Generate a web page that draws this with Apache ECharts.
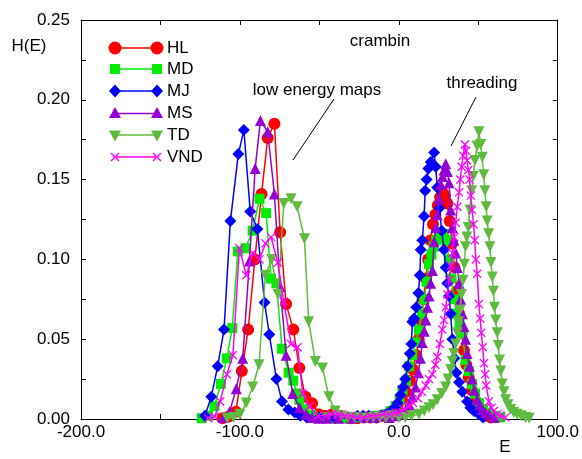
<!DOCTYPE html>
<html>
<head>
<meta charset="utf-8">
<script src="https://cdn.jsdelivr.net/npm/echarts@6/dist/echarts.min.js"></script>
<style>
  html, body { margin: 0; padding: 0; background: #fff; }
  #chart { width: 582px; height: 459px; }
</style>
</head>
<body>
<div id="chart"></div>
<script>
// Energy histograms H(E) for crambin: low energy maps (left) and threading (right)

const hlE = [-111, -107, -102.5, -98.8, -94.8, -90.6, -86.4, -82.5, -78.3, -74.7, -70.9, -66.4, -62.6, -58.8, -54.6, -50.5, -46.5,
  -42, -38, -34, -30, -26, -22, -18,
  -14, -10, -7, -4, -1, 2, 4.5, 7, 9, 11, 12.5, 14, 15.5, 17, 18.5, 20, 21.5, 23, 24.5, 26, 27.5, 29, 30.5, 32, 33.5, 35, 36.5, 38, 39.5, 41, 42.5, 44, 46, 48, 50, 52.5, 55, 58];
const hlH = [0.0005, 0.0015, 0.0046, 0.030, 0.056, 0.100, 0.141, 0.176, 0.185, 0.117, 0.072, 0.056, 0.032, 0.014, 0.0098, 0.003, 0.002,
  0.003, 0.002, 0.001, 0.0005, 0.0005, 0.001, 0.001,
  0.001, 0.002, 0.003, 0.005, 0.008, 0.012, 0.017, 0.024, 0.031, 0.040, 0.050, 0.062, 0.075, 0.088, 0.100, 0.112, 0.122, 0.128, 0.134, 0.139, 0.142, 0.140, 0.135, 0.124, 0.110, 0.095, 0.080, 0.066, 0.054, 0.043, 0.034, 0.026, 0.018, 0.012, 0.008, 0.005, 0.002, 0.001];

const mdE = [-124, -120, -116, -112, -108.2, -104.8, -101.3, -96.5, -92, -87.7, -83.5, -80.4, -77, -73.5, -69.3, -66.4, -64.3, -62.6, -59.4, -55, -51,
  -46, -40, -34, -28, -22, -16,
  -12, -8, -5, -2, 0.5, 2.3, 4.5, 6.5, 8.5, 10.5, 12.7, 14.5, 16, 17.5, 19, 20.5, 22, 23.5, 25.3, 27, 28.5, 30, 31.5, 33, 34.7, 36.5, 38.2, 40, 42, 44, 46, 48, 50.5, 53, 56, 60.4, 64];
const mdH = [0.0005, 0.002, 0.008, 0.022, 0.038, 0.057, 0.105, 0.107, 0.118, 0.138, 0.129, 0.088, 0.085, 0.044, 0.029, 0.024, 0.016, 0.012, 0.006, 0.0025, 0.001,
  0.001, 0.0005, 0.0005, 0.001, 0.001, 0.002,
  0.002, 0.003, 0.005, 0.008, 0.012, 0.018, 0.024, 0.033, 0.040, 0.048, 0.056, 0.066, 0.075, 0.086, 0.097, 0.103, 0.108, 0.112, 0.117, 0.113, 0.116, 0.112, 0.100, 0.088, 0.075, 0.066, 0.060, 0.054, 0.037, 0.030, 0.022, 0.016, 0.010, 0.006, 0.004, 0.002, 0.001];

const mjE = [-122, -118, -114, -110, -106, -101, -97.5, -93.5, -89, -84.5, -81.5, -77, -73.5, -69.5, -65.5, -62, -58,
  -50, -40, -30, -26, -22.5, -19,
  -14, -11, -8, -5, -2.5, -0.8, 1, 2.7, 4, 5.4, 6.9, 7.9, 8.5, 9.6, 11, 12.3, 13.2, 13.8, 14.8, 15.9, 16.6, 17.5, 18.6, 20.1, 22.2, 23.2, 24.2, 25.5, 27, 28.4, 29.5, 30.5, 31.6, 32.6, 33.7, 35, 36.2, 37.9, 40, 43, 45, 47.3, 50.4, 53];
const mjH = [0.002, 0.014, 0.033, 0.056, 0.124, 0.166, 0.181, 0.130, 0.119, 0.073, 0.053, 0.025, 0.011, 0.006, 0.004, 0.002, 0.001,
  0.001, 0.0005, 0.001, 0.002, 0.002, 0.002,
  0.001, 0.002, 0.003, 0.005, 0.007, 0.010, 0.015, 0.020, 0.025, 0.033, 0.041, 0.047, 0.061, 0.063, 0.070, 0.079, 0.090, 0.106, 0.112, 0.127, 0.143, 0.150, 0.157, 0.161, 0.167, 0.158, 0.145, 0.132, 0.118, 0.106, 0.095, 0.085, 0.077, 0.066, 0.050, 0.038, 0.029, 0.023, 0.017, 0.011, 0.007, 0.005, 0.003, 0.001];

const msE = [-110.5, -106.5, -102.3, -98.2, -94, -90.4, -87.1, -82.5, -78.3, -74.7, -70.9, -66.8, -62.5, -58.5, -54.5, -50.5,
  -45, -38, -30, -22, -16, -10,
  -6, -2, 0.2, 2.5, 4.4, 6.5, 8.5, 10.5, 12.3, 13.6, 14.8, 16, 17, 18, 19, 20, 21.1, 22.2, 23.2, 24.2, 25.3, 26.4, 27.5, 28.5, 29.5, 30.6, 31.6, 32.6, 33.7, 34.7, 35.8, 36.8, 37.9, 38.9, 40, 41, 42, 43, 44.5, 46, 47.5, 49.4, 51, 52.5, 54.5, 56.7, 60];
const msH = [0.001, 0.0046, 0.019, 0.038, 0.099, 0.157, 0.187, 0.180, 0.141, 0.083, 0.040, 0.016, 0.007, 0.003, 0.001, 0.0005,
  0.0005, 0.0005, 0.0005, 0.001, 0.001, 0.002,
  0.001, 0.002, 0.003, 0.004, 0.006, 0.009, 0.014, 0.020, 0.029, 0.038, 0.048, 0.055, 0.062, 0.070, 0.077, 0.085, 0.093, 0.111, 0.120, 0.128, 0.138, 0.147, 0.152, 0.156, 0.160, 0.155, 0.148, 0.131, 0.120, 0.112, 0.104, 0.095, 0.085, 0.075, 0.066, 0.058, 0.050, 0.041, 0.033, 0.025, 0.018, 0.012, 0.009, 0.006, 0.004, 0.003, 0.001];

const tdE = [-108, -104, -100, -96, -92, -88, -84, -80, -76, -72.4, -67.8, -64, -59.4, -56.7, -52.5, -48, -44, -40, -36, -32,
  -28, -24, -20, -16, -12, -8, -4,
  0, 4, 8, 12.7, 16, 19, 21.5, 24.2, 27, 29.5, 31, 32.6, 33.7, 34.7, 35.8, 36.8, 37.6, 38.5, 39.4, 40.4, 41.2, 42, 42.8, 43.7, 44.7, 45.8, 46.8, 47.9, 49.2, 50.4, 51.5, 52.5, 53.4, 54.2, 55, 55.6, 56.5, 57.3, 58, 58.8, 59.5, 60.2, 61, 61.9, 62.6, 63.4, 64.2, 65.1, 66.2, 67.2, 68.7, 70.3, 72.3, 74.5, 77, 79.7, 82];
const tdH = [0.0005, 0.001, 0.003, 0.010, 0.020, 0.034, 0.090, 0.100, 0.078, 0.135, 0.138, 0.133, 0.113, 0.061, 0.036, 0.032, 0.014, 0.005, 0.002, 0.001,
  0.001, 0.0005, 0.0005, 0.001, 0.001, 0.001, 0.002,
  0.001, 0.001, 0.002, 0.003, 0.005, 0.007, 0.009, 0.012, 0.016, 0.020, 0.025, 0.031, 0.036, 0.041, 0.047, 0.054, 0.061, 0.068, 0.078, 0.087, 0.097, 0.108, 0.114, 0.120, 0.131, 0.143, 0.152, 0.162, 0.171, 0.180, 0.172, 0.164, 0.153, 0.143, 0.133, 0.124, 0.116, 0.108, 0.098, 0.089, 0.080, 0.070, 0.062, 0.054, 0.046, 0.037, 0.030, 0.022, 0.017, 0.012, 0.009, 0.006, 0.004, 0.003, 0.002, 0.001, 0.0005];

const vndE = [-120, -115.9, -112.4, -108.2, -104.4, -100.3, -96, -91.9, -87.7, -83.9, -80.4, -76.2, -72.4, -67.8, -63.7, -60.5, -56.3, -51, -46,
  -42, -38, -34, -30, -26, -22, -18, -14, -10, -6, -2,
  0, 3, 6, 9, 12, 14.5, 17, 19, 21.1, 23, 24.2, 25.8, 27.4, 28.5, 29.5, 30.6, 31.6, 32.7, 33.7, 34.8, 35.8, 36.8, 37.9, 38.7, 39.5, 40.5, 41.6, 42.3, 43, 43.8, 44.5, 45.3, 46.1, 47, 47.8, 48.5, 49.3, 50.4, 51.2, 51.9, 52.8, 53.6, 54.3, 55, 56.7, 58.3, 59.8, 62, 64, 67];
const vndH = [0.0005, 0.0015, 0.011, 0.028, 0.040, 0.107, 0.090, 0.104, 0.100, 0.110, 0.114, 0.098, 0.0735, 0.047, 0.045, 0.016, 0.008, 0.002, 0.002,
  0.003, 0.003, 0.002, 0.002, 0.001, 0.001, 0.002, 0.002, 0.003, 0.003, 0.004,
  0.004, 0.006, 0.008, 0.010, 0.013, 0.017, 0.021, 0.025, 0.028, 0.034, 0.039, 0.047, 0.056, 0.062, 0.070, 0.078, 0.087, 0.096, 0.104, 0.114, 0.123, 0.133, 0.142, 0.150, 0.158, 0.165, 0.172, 0.168, 0.162, 0.156, 0.150, 0.140, 0.131, 0.122, 0.112, 0.100, 0.091, 0.072, 0.063, 0.054, 0.045, 0.035, 0.028, 0.021, 0.011, 0.007, 0.005, 0.003, 0.002, 0.001];

const seriesNames = ['HL', 'MD', 'MJ', 'MS', 'TD', 'VND'];
const xLabelValues = [-200, -100, 0, 100];
const yLabelValues = [0, 0.05, 0.10, 0.15, 0.20, 0.25];

const FONT = '"Liberation Sans", Arial, Helvetica, sans-serif';
const colors = ['#ff0000', '#00ee00', '#0000ff', '#9400d3', '#5fbb3f', '#ff00ff'];
const crossPath = 'path://M0,1 L1,0 L5,4 L9,0 L10,1 L6,5 L10,9 L9,10 L5,6 L1,10 L0,9 L4,5 Z';
const symbols = [
  { symbol: 'circle', size: 12 },
  { symbol: 'rect', size: 10 },
  { symbol: 'diamond', size: 12 },
  { symbol: 'triangle', size: 11 },
  { symbol: 'triangle', size: 11, rotate: 180 },
  { symbol: crossPath, size: 9 }
];
const dataE = [hlE, mdE, mjE, msE, tdE, vndE];
const dataH = [hlH, mdH, mjH, msH, tdH, vndH];

const series = seriesNames.map((name, i) => ({
  type: 'line',
  name: name,
  data: dataE[i].map((e, k) => [e, dataH[i][k]]),
  symbol: symbols[i].symbol,
  symbolSize: symbols[i].size,
  symbolRotate: symbols[i].rotate || 0,
  showSymbol: true,
  showAllSymbol: true,
  lineStyle: { color: colors[i], width: 1.5 },
  itemStyle: { color: colors[i] },
  emphasis: { disabled: true },
  animation: false,
  z: 2 + i
}));

// legend keys: marker - line - marker, with label
const legendGraphics = [];
const legendRowY = [48, 69, 91, 113.5, 135, 157];
const keyX1 = 115, keyX2 = 157;
function keyMarker(i, cx, cy) {
  const c = colors[i];
  switch (i) {
    case 0: return { type: 'circle', shape: { cx: cx, cy: cy, r: 6.5 }, style: { fill: c } };
    case 1: return { type: 'rect', shape: { x: cx - 5, y: cy - 5, width: 10, height: 10 }, style: { fill: c } };
    case 2: return { type: 'polygon', shape: { points: [[cx, cy - 6.5], [cx + 6, cy], [cx, cy + 6.5], [cx - 6, cy]] }, style: { fill: c } };
    case 3: return { type: 'polygon', shape: { points: [[cx, cy - 6.5], [cx + 6, cy + 4.5], [cx - 6, cy + 4.5]] }, style: { fill: c } };
    case 4: return { type: 'polygon', shape: { points: [[cx - 6, cy - 4.5], [cx + 6, cy - 4.5], [cx, cy + 6.5]] }, style: { fill: c } };
    default: return {
      type: 'group', children: [
        { type: 'line', shape: { x1: cx - 4, y1: cy - 4, x2: cx + 4, y2: cy + 4 }, style: { stroke: c, lineWidth: 1.5 } },
        { type: 'line', shape: { x1: cx - 4, y1: cy + 4, x2: cx + 4, y2: cy - 4 }, style: { stroke: c, lineWidth: 1.5 } }
      ]
    };
  }
}
seriesNames.forEach((name, i) => {
  const y = legendRowY[i];
  legendGraphics.push({ type: 'line', shape: { x1: keyX1, y1: y, x2: keyX2, y2: y }, style: { stroke: colors[i], lineWidth: 1.5 } });
  legendGraphics.push(keyMarker(i, keyX1, y));
  legendGraphics.push(keyMarker(i, keyX2, y));
  legendGraphics.push({ type: 'text', x: 167, y: y, style: { text: name, font: '17px ' + FONT, fill: '#000', align: 'left', verticalAlign: 'middle' } });
});

function textEl(text, x, y, align) {
  return { type: 'text', x: x, y: y, style: { text: text, font: '17px ' + FONT, fill: '#000', align: align || 'center', verticalAlign: 'middle' } };
}

function axisCommon() {
  return {
    axisLine: { show: true, onZero: false, lineStyle: { color: '#000', width: 1 } },
    axisTick: { show: true, inside: true, length: 5, lineStyle: { color: '#000', width: 1 } },
    splitLine: { show: false }
  };
}

const option = {
  backgroundColor: '#fff',
  animation: false,
  grid: { left: 81, right: 23, top: 20, bottom: 40, containLabel: false },
  xAxis: [
    Object.assign({
      type: 'value', min: -200, max: 100, interval: 50, position: 'bottom',
      axisLabel: {
        margin: 5, color: '#000', fontSize: 17, fontFamily: FONT,
        formatter: v => xLabelValues.indexOf(v) >= 0 ? v.toFixed(1) : ''
      }
    }, axisCommon()),
    Object.assign({
      type: 'value', min: -200, max: 100, interval: 50, position: 'top',
      axisLabel: { show: false }
    }, axisCommon())
  ],
  yAxis: [
    Object.assign({
      type: 'value', min: 0, max: 0.25, interval: 0.025, position: 'left',
      axisLabel: {
        margin: 11, color: '#000', fontSize: 17, fontFamily: FONT,
        formatter: v => yLabelValues.some(t => Math.abs(t - v) < 1e-6) ? v.toFixed(2) : ''
      }
    }, axisCommon()),
    Object.assign({
      type: 'value', min: 0, max: 0.25, interval: 0.025, position: 'right',
      axisLabel: { show: false }
    }, axisCommon())
  ],
  series: series,
  graphic: [
    textEl('H(E)', 29, 46),
    textEl('E', 505, 447),
    textEl('crambin', 380, 41),
    textEl('low energy maps', 317, 90),
    textEl('threading', 482, 83),
    { type: 'line', shape: { x1: 293, y1: 160, x2: 334, y2: 99 }, style: { stroke: '#000', lineWidth: 1 } },
    { type: 'line', shape: { x1: 451, y1: 146, x2: 476, y2: 97 }, style: { stroke: '#000', lineWidth: 1 } }
  ].concat(legendGraphics)
};

const chart = echarts.init(document.getElementById('chart'), null, { renderer: 'canvas' });
chart.setOption(option);
</script>
</body>
</html>
